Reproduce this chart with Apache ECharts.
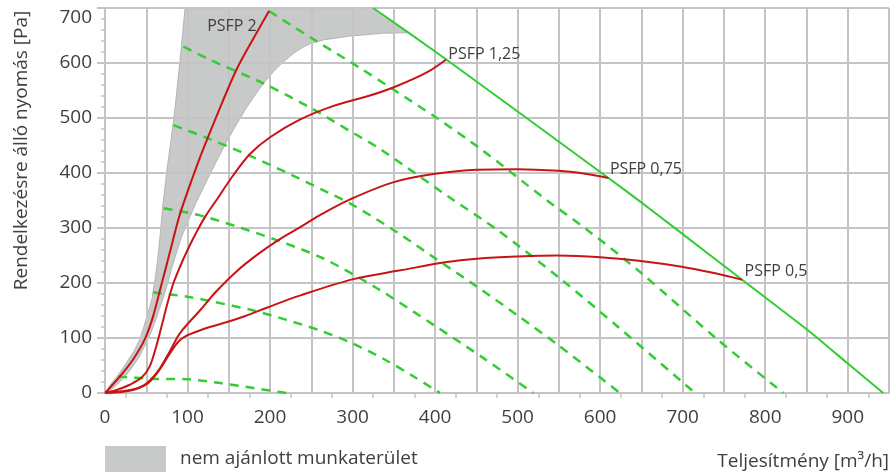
<!DOCTYPE html>
<html>
<head>
<meta charset="utf-8">
<script src="https://cdn.jsdelivr.net/npm/echarts@6/dist/echarts.min.js"></script>
<style>
  html, body { margin: 0; padding: 0; background: #fff; }
  #chart { width: 891px; height: 474px; }
</style>
</head>
<body>
<div id="chart"></div>
<script>
// ---- data ----
const xLabel = 'Teljesítmény [m³/h]';
const yLabel = 'Rendelkezésre álló nyomás [Pa]';
const areaName = 'nem ajánlott munkaterület';

// not recommended area (polygon)
const areaPoly = [
  [0,0],[8,18],[16,33],[26,55],[35,76],[42,97],[48,125],[53,150],[57,172],[61,210],[64,245],[67,290],[70,340],[75,405],[80,460],[85,520],[91,606],[97,700],
  [325,700],[367,655],
  [337,654],[297,649],[265,642],[250,636],[240,629],[228,617],[216,602],[204,584],[192,563],[182,542],[172,520],[160,490],[147,456],[138,430],[129,403],[120,376],[111,348],
  [102,317],[93,285],[87,257],[81,228],[76,200],[71,175],[66,153],[62,135],[57,115],[52,97],[46,79],[40,62],[33,47],[26,33],[19,22],[12,12],[6,5]
];

// PSFP curves (red)
const psfp2   = [[0,0],[18,30],[34,61],[48,97],[58,138],[68,195],[79,258],[89,316],[97,353],[105,387],[114,424],[124,462],[142,528],[160,590],[180,645],[199,695]];
const psfp125 = [[0,0],[15,6],[30,15],[45,29],[54,48],[61,79],[68,118],[76,165],[83,200],[91,230],[100,260],[110,290],[122,322],[137,355],[155,395],[176,435],[200,465],[236,497],[277,522],[317,539],[350,556],[390,583],[413,606]];
const psfp075 = [[0,0],[20,3],[35,7],[47,14],[56,25],[67,46],[79,77],[91,109],[115,150],[135,185],[160,222],[185,252],[210,278],[236,301],[260,323],[297,352],[349,383],[398,398],[451,406],[499,407],[550,404],[580,399],[610,391]];
const psfp05  = [[0,0],[20,2],[35,6],[47,13],[56,23],[67,44],[79,73],[90,95],[100,105],[110,111],[127,120],[148,129],[170,140],[196,155],[236,177],[301,207],[358,223],[414,238],[451,244],[499,248],[548,250],[600,247],[649,240],[697,230],[735,219],[772,206]];

// dashed green curves
const dash1 = [[16,30],[55,26],[100,25],[140,18],[180,9],[220,0]];
const dash2 = [[58,183],[100,175],[131,166],[180,150],[220,133],[260,114],[300,90],[340,60],[375,29],[406,0]];
const dash3 = [[71,336],[115,323],[155,305],[208,278],[264,245],[330,190],[400,122],[460,62],[519,0]];
const dash4 = [[83,487],[123,464],[176,431],[224,398],[264,369],[300,342],[350,296],[400,245],[450,194],[500,141],[550,86],[600,28],[624,0]];
const dash5 = [[95,630],[127,606],[192,563],[252,516],[296,477],[333,444],[422,351],[475,297],[550,210],[621,121],[715,0]];
const dash6 = [[199,694],[257,639],[309,591],[346,555],[402,500],[455,444],[535,351],[584,297],[650,218],[740,100],[822,0]];

// max curve (solid green)
const maxCurve = [[325,700],[414,606],[610,391],[645,352],[693,297],[772,206],[851,115],[899,55],[943,0]];

// ---- chart ----
const FONT = '"Open Sans", "Noto Sans", sans-serif';
const TXT = '#404040';
const GRID = '#c4c4c4';
const RED = '#c81414';
const GREEN = '#33cc33';

function redCurve(name, pts, lbl) {
  return {
    type: 'line', name: name, data: pts, showSymbol: false, symbol: 'none',
    smooth: 0.35, z: 5, silent: true,
    lineStyle: { color: RED, width: 2 },
    markPoint: {
      symbol: 'circle', symbolSize: 1, silent: true, animation: false,
      itemStyle: { color: 'rgba(0,0,0,0)' },
      label: Object.assign({ show: true, formatter: name, color: TXT, fontFamily: FONT, fontSize: 16 }, lbl),
      data: [{ coord: pts[pts.length - 1] }]
    }
  };
}
function dashCurve(pts) {
  return {
    type: 'line', data: pts, showSymbol: false, symbol: 'none', smooth: 0.3, z: 3, silent: true,
    lineStyle: { color: GREEN, width: 2.5, type: [9, 7] }
  };
}

const chart = echarts.init(document.getElementById('chart'));
chart.setOption({
  animation: false,
  backgroundColor: '#fff',
  grid: { left: 105, right: 2, top: 8, bottom: 81, containLabel: false, outerBoundsMode: 'none' },
  legend: {
    data: [{ name: areaName, icon: 'rect' }],
    left: 105, top: 446, padding: 0, itemWidth: 61, itemHeight: 26,
    textStyle: { color: TXT, fontFamily: FONT, fontSize: 19, padding: [0, 0, 0, 9] },
    selectedMode: false
  },
  xAxis: {
    type: 'value', min: 0, max: 950, interval: 50,
    name: xLabel, nameLocation: 'end', nameGap: 0,
    nameTextStyle: { color: TXT, fontFamily: FONT, fontSize: 19, align: 'right', verticalAlign: 'top', padding: [59, 0, 0, 0] },
    axisLine: { show: true, lineStyle: { color: GRID, width: 2 } },
    axisTick: { show: false },
    minorTick: { show: true, splitNumber: 2, length: 5, lineStyle: { color: GRID, width: 1.5 } },
    axisLabel: {
      color: TXT, fontFamily: FONT, fontSize: 19, margin: 15,
      formatter: v => (v % 100 === 0 && v <= 900) ? String(v) : ''
    },
    splitLine: { show: true, lineStyle: { color: GRID, width: 2 } }
  },
  yAxis: {
    type: 'value', min: 0, max: 700, interval: 100,
    name: yLabel, nameLocation: 'middle', nameGap: 74,
    nameTextStyle: { color: TXT, fontFamily: FONT, fontSize: 19, padding: [0, 0, 0, 100] },
    axisLine: { show: true, lineStyle: { color: GRID, width: 2 } },
    axisTick: { show: true, length: 8, lineStyle: { color: GRID, width: 2 } },
    minorTick: { show: true, splitNumber: 5, length: 4, lineStyle: { color: GRID, width: 1.5 } },
    axisLabel: { color: TXT, fontFamily: FONT, fontSize: 19, margin: 13, verticalAlignMaxLabel: 'top' },
    splitLine: { show: true, lineStyle: { color: GRID, width: 2 } }
  },
  series: [
    {
      type: 'custom', name: areaName, z: -1, silent: true,
      itemStyle: { color: '#c8c9c9' },
      data: [0],
      renderItem: function (params, api) {
        return {
          type: 'polygon',
          shape: { points: areaPoly.map(p => api.coord(p)) },
          style: { fill: '#c8c9c9', stroke: '#a9a9a9', lineWidth: 0.8 }
        };
      }
    },
    dashCurve(dash1), dashCurve(dash2), dashCurve(dash3),
    dashCurve(dash4), dashCurve(dash5), dashCurve(dash6),
    {
      type: 'line', data: maxCurve, showSymbol: false, symbol: 'none', smooth: 0.2, z: 4, silent: true,
      lineStyle: { color: GREEN, width: 2 }
    },
    redCurve('PSFP 2', psfp2, { position: 'left', distance: 12, offset: [0, 16] }),
    redCurve('PSFP 1,25', psfp125, { position: 'right', distance: 2, offset: [0, -5] }),
    redCurve('PSFP 0,75', psfp075, { position: 'right', distance: 1, offset: [0, -9] }),
    redCurve('PSFP 0,5', psfp05, { position: 'right', distance: 2, offset: [0, -8] })
  ]
});
</script>
</body>
</html>
